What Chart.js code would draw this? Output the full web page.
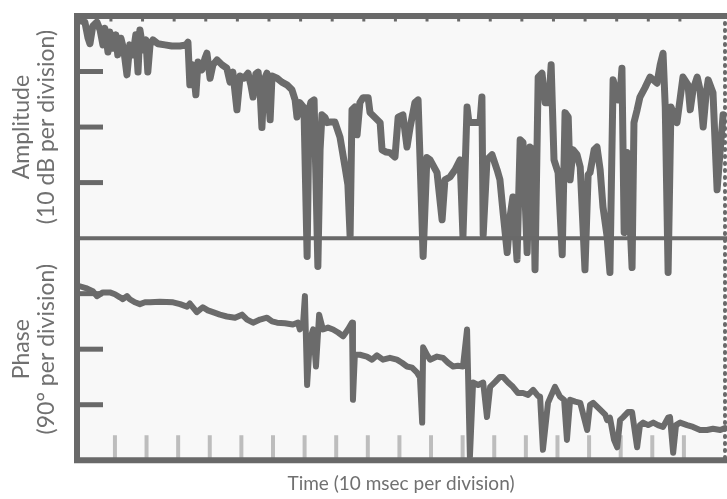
<!DOCTYPE html>
<html>
<head>
<meta charset="utf-8">
<title>Amplitude and phase record</title>
<script src="https://cdn.jsdelivr.net/npm/chart.js@4.4.1/dist/chart.umd.min.js"></script>
<style>
    html, body { margin: 0; padding: 0; background: #ffffff; }
    #wrap { width: 727px; height: 499px; position: relative; }
</style>
</head>
<body>
<div id="wrap"><canvas id="recordChart"></canvas></div>
<script>
// Values (time in msec, amplitude in dB, phase in degrees)
const ampTime = [
    -11.7, -9.5, -8.5, -7.9, -7.0, -5.7, -4.7, -3.8, -3.2, -2.2, -1.6, -0.6, 0.3, 0.9, 1.9, 2.8,
    3.8, 4.7, 5.7, 6.6, 7.3, 7.9, 8.9, 9.8, 10.4, 11.1, 12.0, 13.6, 15.8, 18.0, 20.6, 22.5,
    23.1, 23.7, 24.7, 25.6, 26.3, 27.5, 28.5, 29.1, 30.1, 31.0, 32.3, 33.9, 35.4, 36.4, 37.3, 38.6,
    39.6, 40.8, 42.1, 43.0, 43.7, 44.6, 45.3, 45.9, 46.5, 47.2, 48.1, 49.1, 49.7, 51.3, 52.8, 54.4,
    56.0, 57.0, 57.6, 58.5, 59.8, 60.8, 61.4, 62.0, 63.0, 63.6, 64.2, 64.9, 65.5, 66.5, 67.1, 68.0,
    69.6, 71.2, 72.8, 73.7, 74.4, 75.0, 75.9, 76.6, 77.5, 78.5, 80.1, 80.7, 82.3, 83.9, 84.5, 85.8,
    87.0, 88.6, 89.6, 91.1, 92.4, 93.4, 94.9, 95.9, 96.5, 97.5, 98.7, 99.7, 101.9, 103.5, 104.4, 106.0,
    107.6, 109.2, 110.1, 111.4, 112.0, 115.5, 116.1, 116.5, 117.7, 119.3, 120.9, 121.8, 122.8, 124.1, 125.0, 125.9,
    127.2, 128.2, 129.1, 130.4, 131.3, 132.3, 132.9, 133.9, 135.1, 136.1, 137.3, 138.0, 138.9, 140.2, 141.5, 142.4,
    143.4, 144.0, 144.9, 146.2, 147.2, 148.7, 149.7, 150.3, 151.6, 152.5, 153.5, 154.4, 155.7, 156.6, 157.6, 159.2,
    159.8, 160.4, 161.1, 162.0, 163.6, 164.2, 165.2, 166.1, 167.7, 169.3, 171.5, 172.5, 173.4, 174.1, 175.0, 175.9,
    177.8, 179.7, 181.3, 182.0, 182.9, 184.2, 185.1, 186.1, 187.0, 187.7, 189.2, 190.5, 191.5, 192.4
];
const ampDb = [
    -0.7, -1.1, -4.0, -5.0, -1.8, -1.1, -2.5, -5.2, -2.2, -6.5, -2.9, -5.8, -3.4, -7.0, -4.0, -6.1,
    -10.6, -5.2, -7.0, -3.4, -10.1, -2.5, -6.1, -4.3, -10.1, -5.2, -4.3, -5.0, -5.2, -5.4, -5.4, -5.2,
    -4.7, -12.4, -8.8, -14.2, -8.3, -9.7, -7.6, -6.7, -11.2, -8.8, -7.9, -8.8, -9.4, -11.9, -10.1, -16.9,
    -10.8, -11.2, -10.3, -12.4, -14.6, -10.4, -10.1, -13.3, -20.1, -11.5, -10.3, -18.7, -10.8, -11.2, -11.9, -12.4,
    -13.3, -15.1, -18.2, -15.6, -16.5, -43.3, -16.9, -15.5, -15.1, -29.5, -45.1, -24.1, -17.8, -18.3, -19.2, -19.1,
    -19.1, -21.8, -27.2, -30.4, -39.7, -16.9, -16.4, -21.4, -15.6, -14.7, -14.7, -17.4, -18.3, -19.2, -24.1, -24.5,
    -24.6, -25.4, -18.2, -17.8, -23.6, -20.0, -15.6, -15.1, -25.4, -43.3, -25.5, -25.9, -28.2, -36.7, -29.5, -29.0,
    -27.7, -25.9, -39.7, -16.4, -19.2, -19.2, -14.6, -39.4, -25.9, -25.0, -27.7, -29.5, -35.4, -42.6, -36.2, -32.6,
    -43.9, -22.3, -22.8, -42.6, -23.6, -24.1, -45.7, -11.0, -10.3, -15.6, -15.6, -8.8, -25.9, -28.2, -43.0, -17.4,
    -18.2, -29.5, -24.1, -25.0, -27.2, -45.7, -28.6, -28.2, -24.1, -23.6, -27.7, -34.4, -39.7, -46.2, -11.5, -15.1,
    -14.2, -9.4, -39.0, -24.6, -45.3, -19.2, -16.9, -14.6, -12.9, -11.0, -12.1, -8.8, -6.7, -16.4, -46.2, -16.4,
    -19.2, -11.0, -12.4, -16.9, -13.3, -11.0, -13.3, -20.0, -14.2, -11.5, -13.8, -31.3, -24.1, -17.8
];

const phaseTime = [
    -11.1, -9.2, -7.0, -5.7, -3.8, -1.6, 0.0, 1.6, 2.5, 3.8, 4.7, 6.3, 7.9, 9.5, 11.1, 14.2,
    18.4, 20.6, 22.8, 23.7, 25.9, 27.8, 29.4, 31.0, 33.2, 35.4, 38.0, 40.2, 41.8, 43.7, 45.9, 48.1,
    49.7, 51.3, 53.8, 56.3, 57.9, 58.5, 59.5, 60.1, 60.8, 61.7, 62.7, 63.6, 64.6, 65.8, 67.4, 69.0,
    70.6, 72.2, 73.7, 75.0, 75.3, 75.9, 77.5, 79.7, 81.3, 82.9, 84.8, 87.0, 89.2, 90.8, 92.4, 94.0,
    95.6, 96.5, 97.2, 97.5, 98.7, 99.7, 101.9, 103.8, 105.4, 107.0, 108.5, 110.1, 111.4, 112.3, 113.3, 114.9,
    116.5, 117.7, 118.7, 120.3, 121.8, 122.8, 124.4, 125.9, 127.5, 129.1, 130.7, 132.3, 133.9, 134.5, 135.4, 137.0,
    139.2, 140.8, 142.1, 143.0, 144.0, 145.6, 147.2, 149.4, 150.3, 151.3, 153.5, 155.1, 155.7, 156.6, 157.9, 158.9,
    159.8, 160.8, 162.3, 163.6, 165.2, 166.1, 167.1, 168.7, 170.3, 171.8, 173.4, 175.0, 175.6, 176.6, 177.5, 178.8,
    181.0, 182.9, 185.1, 187.3, 189.2, 191.5, 193.0
];
const phaseDeg = [
    -78, -81, -86, -94, -88, -88, -91, -96, -99, -94, -99, -104, -107, -104, -104, -103,
    -104, -107, -111, -106, -120, -112, -117, -120, -124, -127, -129, -124, -132, -137, -132, -129,
    -135, -137, -138, -140, -137, -148, -140, -94, -238, -164, -148, -208, -124, -148, -145, -148,
    -153, -159, -148, -137, -262, -189, -189, -192, -197, -190, -197, -194, -197, -202, -208, -210,
    -218, -226, -299, -177, -189, -197, -192, -194, -202, -208, -207, -208, -148, -355, -234, -238,
    -234, -290, -241, -233, -225, -225, -234, -241, -251, -251, -254, -246, -256, -257, -343, -267,
    -241, -257, -262, -327, -262, -265, -267, -311, -270, -267, -278, -286, -295, -291, -327, -339,
    -295, -290, -282, -282, -339, -303, -299, -303, -299, -303, -306, -291, -290, -348, -303, -299,
    -303, -306, -311, -311, -309, -311, -308
];

const TRACE = '#6b6b6b';
const FRAME = '#696969';
const TEXT = '#707070';
const FONT = "'Lato', 'Open Sans', sans-serif";

// Paper, frame, division marks around the two traces
const recorderFrame = {
    id: 'recorderFrame',
    beforeDatasetsDraw(chart) {
        const { ctx, chartArea: a } = chart;
        const x = chart.scales.x;
        ctx.save();
        ctx.fillStyle = '#f8f8f8';
        ctx.fillRect(a.left, a.top, a.right - a.left, a.bottom - a.top);

        // light time-division ticks along the bottom
        ctx.strokeStyle = '#bdbdbd';
        ctx.lineWidth = 4;
        x.ticks.forEach(t => {
            if (t.value < 0 || t.value > 190) return;
            const px = x.getPixelForValue(t.value);
            ctx.beginPath();
            ctx.moveTo(px, a.bottom - 2);
            ctx.lineTo(px, a.bottom - 25);
            ctx.stroke();
        });
        ctx.restore();
    },
    afterDatasetsDraw(chart) {
        const { ctx, chartArea: a } = chart;
        const x = chart.scales.x;
        const amp = chart.scales.amp;
        const phase = chart.scales.phase;
        const mid = amp.getPixelForValue(amp.min);
        ctx.save();
        ctx.strokeStyle = FRAME;
        ctx.lineCap = 'square';

        // small marks hanging from the top edge
        ctx.lineWidth = 3;
        x.ticks.forEach(t => {
            if (t.value < 0 || t.value > 190) return;
            const px = x.getPixelForValue(t.value) - 4;
            ctx.beginPath();
            ctx.moveTo(px, a.top);
            ctx.lineTo(px, a.top + 4);
            ctx.stroke();
        });

        // left division marks for both traces
        ctx.lineWidth = 5;
        ctx.lineCap = 'butt';
        [amp, phase].forEach(s => {
            s.ticks.forEach(t => {
                if (t.value <= s.min || t.value >= s.max) return;
                const py = s.getPixelForValue(t.value);
                ctx.beginPath();
                ctx.moveTo(a.left, py);
                ctx.lineTo(a.left + 26, py);
                ctx.stroke();
            });
        });

        // frame
        ctx.lineCap = 'square';
        ctx.lineWidth = 6;
        ctx.beginPath();
        ctx.moveTo(a.right, a.top);
        ctx.lineTo(a.left, a.top);
        ctx.lineTo(a.left, a.bottom);
        ctx.lineTo(a.right, a.bottom);
        ctx.stroke();

        ctx.lineWidth = 4;
        ctx.beginPath();
        ctx.moveTo(a.left, mid);
        ctx.lineTo(a.right, mid);
        ctx.stroke();

        // dotted right edge
        ctx.lineWidth = 4;
        ctx.lineCap = 'round';
        ctx.setLineDash([1, 6]);
        ctx.beginPath();
        ctx.moveTo(a.right, a.top);
        ctx.lineTo(a.right, a.bottom);
        ctx.stroke();
        ctx.restore();
    }
};

function hiddenAxis(extra) {
    return Object.assign({
        type: 'linear',
        grid: { display: false, drawTicks: false },
        border: { display: false },
        ticks: { display: false }
    }, extra);
}

const ctx = document.getElementById('recordChart').getContext('2d');

new Chart(ctx, {
    type: 'line',
    data: {
        datasets: [
            {
                label: 'Amplitude',
                data: ampTime.map((t, i) => ({ x: t, y: ampDb[i] })),
                yAxisID: 'amp',
                borderColor: TRACE,
                borderWidth: 7,
                borderJoinStyle: 'round',
                borderCapStyle: 'round',
                pointRadius: 0,
                tension: 0,
                clip: false
            },
            {
                label: 'Phase',
                data: phaseTime.map((t, i) => ({ x: t, y: phaseDeg[i] })),
                yAxisID: 'phase',
                borderColor: TRACE,
                borderWidth: 6,
                borderJoinStyle: 'round',
                borderCapStyle: 'round',
                pointRadius: 0,
                tension: 0,
                clip: { left: 4, right: 4, top: 30, bottom: 2 }
            }
        ]
    },
    options: {
        responsive: true,
        maintainAspectRatio: false,
        animation: false,
        events: [],
        layout: { padding: { left: 0, right: 2, top: 16, bottom: 3 } },
        plugins: {
            legend: { display: false },
            tooltip: { enabled: false }
        },
        scales: {
            x: hiddenAxis({
                position: 'bottom',
                min: -12,
                max: 193,
                ticks: { display: false, stepSize: 10 },
                title: {
                    display: true,
                    text: 'Time (10 msec per division)',
                    color: TEXT,
                    font: { family: FONT, size: 19, lineHeight: 1.25 },
                    padding: { top: 12, bottom: 0 }
                }
            }),
            amp: hiddenAxis({
                position: 'left',
                stack: 'record',
                stackWeight: 1,
                weight: 1,
                min: -40,
                max: 0,
                ticks: { display: false, stepSize: 10 },
                title: {
                    display: true,
                    text: ['Amplitude', '(10 dB per division)'],
                    color: TEXT,
                    font: { family: FONT, size: 23, lineHeight: 25 / 23 },
                    padding: { top: 9.5, bottom: 17.5 }
                }
            }),
            phase: hiddenAxis({
                position: 'left',
                stack: 'record',
                stackWeight: 1,
                weight: 0,
                min: -360,
                max: 0,
                ticks: { display: false, stepSize: 90 },
                title: {
                    display: true,
                    text: ['Phase', '(90\u00b0 per division)'],
                    color: TEXT,
                    font: { family: FONT, size: 23, lineHeight: 25 / 23 },
                    padding: { top: 9.5, bottom: 17.5 }
                }
            })
        }
    },
    plugins: [recorderFrame]
});
</script>
</body>
</html>
